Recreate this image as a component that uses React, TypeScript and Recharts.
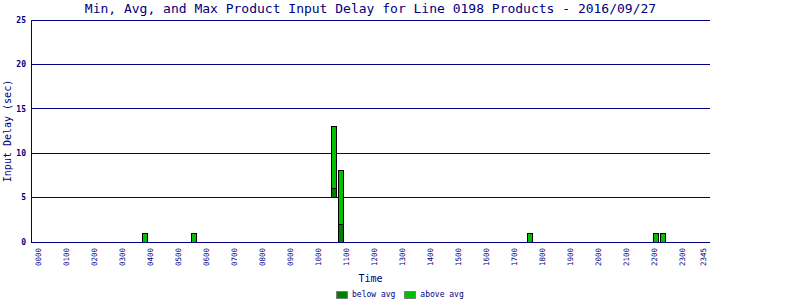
import { Bar, BarChart, CartesianGrid, Legend, XAxis, YAxis } from "recharts";

const navy = "#000080";
const mono = "'DejaVu Sans Mono', monospace";

// 15 minute slots for the day
const slotTimes = [
  "0000", "0015", "0030", "0045", "0100", "0115", "0130", "0145",
  "0200", "0215", "0230", "0245", "0300", "0315", "0330", "0345",
  "0400", "0415", "0430", "0445", "0500", "0515", "0530", "0545",
  "0600", "0615", "0630", "0645", "0700", "0715", "0730", "0745",
  "0800", "0815", "0830", "0845", "0900", "0915", "0930", "0945",
  "1000", "1015", "1030", "1045", "1100", "1115", "1130", "1145",
  "1200", "1215", "1230", "1245", "1300", "1315", "1330", "1345",
  "1400", "1415", "1430", "1445", "1500", "1515", "1530", "1545",
  "1600", "1615", "1630", "1645", "1700", "1715", "1730", "1745",
  "1800", "1815", "1830", "1845", "1900", "1915", "1930", "1945",
  "2000", "2015", "2030", "2045", "2100", "2115", "2130", "2145",
  "2200", "2215", "2230", "2245", "2300", "2315", "2330", "2345",
];

const tickLabels = [
  "0000", "0100", "0200", "0300", "0400", "0500", "0600", "0700",
  "0800", "0900", "1000", "1100", "1200", "1300", "1400", "1500",
  "1600", "1700", "1800", "1900", "2000", "2100", "2200", "2300", "2345",
];

const yTicks = [0, 5, 10, 15, 20, 25];

const legendOrder = ["below avg", "above avg"];

// slots that had products
const eventTimes = ["0345", "0530", "1030", "1045", "1730", "2200", "2215"];
const minDelay = [0, 0, 5, 0, 0, 0, 0];
const avgDelay = [0, 0, 6, 2, 0, 0, 0];
const maxDelay = [1, 1, 13, 8, 1, 1, 1];

const data = slotTimes.map((time) => {
  const i = eventTimes.indexOf(time);
  if (i < 0) return { time, base: null, below: null, above: null };
  return {
    time,
    base: minDelay[i],
    below: avgDelay[i] - minDelay[i],
    above: maxDelay[i] - avgDelay[i],
  };
});

function TimeTick(props: any) {
  const { x, y, payload } = props;
  if (!tickLabels.includes(payload.value)) return null;
  return (
    <text
      transform={`translate(${x + 1.5}, ${y + 6}) rotate(-90)`}
      textAnchor="end"
      fill={navy}
      fontSize={7.5}
      fontFamily={mono}
    >
      {payload.value}
    </text>
  );
}

function YTitle(props: any) {
  const vb = props.viewBox;
  const cx = vb.x + 7;
  const cy = vb.y + vb.height / 2;
  return (
    <text
      x={cx}
      y={cy}
      transform={`rotate(-90 ${cx} ${cy})`}
      textAnchor="middle"
      dominantBaseline="central"
      fill={navy}
      fontSize={10}
      fontFamily={mono}
    >
      Input Delay (sec)
    </text>
  );
}

function LegendBox(props: any) {
  const items = (props.payload || [])
    .filter((p: any) => p.type !== "none")
    .sort((a: any, b: any) => legendOrder.indexOf(a.value) - legendOrder.indexOf(b.value));
  return (
    <div style={{ display: "flex", alignItems: "center", fontFamily: mono, fontSize: 8, color: navy }}>
      {items.map((p: any) => (
        <div key={p.value} style={{ display: "flex", alignItems: "center", marginRight: 9 }}>
          <span
            style={{
              display: "inline-block",
              width: 10,
              height: 6,
              background: p.color,
              border: "1px solid #808080",
              marginRight: 4,
            }}
          />
          <span>{p.value}</span>
        </div>
      ))}
    </div>
  );
}

export default function App() {
  return (
    <div style={{ position: "absolute", left: 0, top: 0, width: 800, height: 300, background: "#fff" }}>
      <style>{`
        .recharts-cartesian-grid line,
        .recharts-cartesian-axis-line,
        .recharts-rectangle { shape-rendering: crispEdges; }
      `}</style>
      <div
        style={{
          position: "absolute",
          top: 1,
          left: 0,
          width: 741,
          textAlign: "center",
          fontFamily: mono,
          fontSize: 13,
          lineHeight: "15px",
          color: navy,
          whiteSpace: "nowrap",
        }}
      >
        Min, Avg, and Max Product Input Delay for Line 0198 Products - 2016/09/27
      </div>
      <BarChart
        width={800}
        height={300}
        data={data}
        margin={{ top: 20, right: 90, bottom: 0, left: 0 }}
        barSize={5}
      >
        <CartesianGrid vertical={false} stroke={navy} />
        <XAxis
          dataKey="time"
          interval={0}
          height={58}
          padding={{ left: 5, right: 2 }}
          tickLine={false}
          tickSize={0}
          tickMargin={0}
          axisLine={{ stroke: navy }}
          tick={<TimeTick />}
          label={{
            value: "Time",
            position: "insideBottom",
            offset: 18,
            fill: navy,
            fontSize: 10,
            fontFamily: mono,
          }}
        />
        <YAxis
          width={31}
          domain={[0, 25]}
          ticks={yTicks}
          tickLine={false}
          tickSize={0}
          tickMargin={5}
          axisLine={{ stroke: navy }}
          tick={{ fill: navy, fontSize: 8, fontFamily: mono, fontWeight: "bold" }}
          label={<YTitle />}
        />
        <YAxis
          yAxisId="right"
          orientation="right"
          width={0}
          domain={[0, 25]}
          tick={false}
          tickLine={false}
          axisLine={{ stroke: navy }}
        />
        <Legend
          verticalAlign="middle"
          align="center"
          layout="horizontal"
          content={<LegendBox />}
          wrapperStyle={{ left: 336, top: 290, bottom: "auto", width: "auto" }}
        />
        <Bar dataKey="base" stackId="a" fill="transparent" stroke="none" legendType="none" isAnimationActive={false} />
        <Bar dataKey="below" name="below avg" stackId="a" fill="#008000" stroke="#000" isAnimationActive={false} />
        <Bar dataKey="above" name="above avg" stackId="a" fill="#00c000" stroke="#000" isAnimationActive={false} />
      </BarChart>
    </div>
  );
}
